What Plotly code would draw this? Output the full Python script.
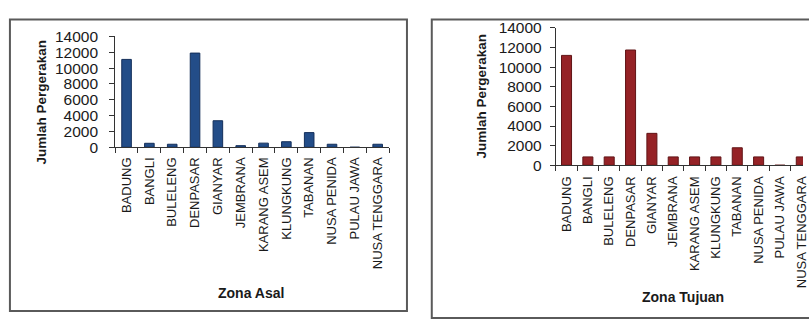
import plotly.graph_objects as go

# Zones (Bali regencies + external zones)
zones = ["BADUNG", "BANGLI", "BULELENG", "DENPASAR", "GIANYAR", "JEMBRANA",
         "KARANG ASEM", "KLUNGKUNG", "TABANAN", "NUSA PENIDA", "PULAU JAWA",
         "NUSA TENGGARA"]

# Trips generated per origin zone
origin_trips = [11100, 500, 380, 11900, 3350, 200, 520, 700, 1850, 380, 0, 380]

# Trips attracted per destination zone
dest_trips = [11200, 850, 850, 11750, 3250, 850, 850, 850, 1780, 850, 0, 850]

y_ticks = [0, 2000, 4000, 6000, 8000, 10000, 12000, 14000]
y_tick_text = [str(v) for v in y_ticks]

W, H = 809, 320
FONT = "Liberation Sans, Arial, sans-serif"
TXT = "#1a1a1a"


def px(x):
    return x / W


def py(y):
    return 1 - y / H


fig = go.Figure()

fig.add_trace(go.Bar(
    x=zones, y=origin_trips, width=0.42,
    marker=dict(color="#234d88", line=dict(color="#142f5a", width=1)),
    xaxis="x", yaxis="y", showlegend=False,
))
fig.add_trace(go.Bar(
    x=zones, y=dest_trips, width=0.47,
    marker=dict(color="#952226", line=dict(color="#611416", width=1)),
    xaxis="x2", yaxis="y2", showlegend=False,
))

xcommon = dict(
    type="category", tickangle=-90, tickson="boundaries",
    ticks="outside", ticklen=5, tickcolor="#333", showline=True,
    linecolor="#333", linewidth=1, showgrid=False, zeroline=False,
    ticklabelstandoff=4,
    tickfont=dict(family=FONT, size=13, color=TXT), fixedrange=True,
)
ycommon = dict(
    range=[0, 14000], tickmode="array", tickvals=y_ticks,
    ticktext=y_tick_text, ticks="outside", ticklen=5,
    tickcolor="#333", showline=True, linecolor="#333", linewidth=1,
    showgrid=False, zeroline=False,
    tickfont=dict(family=FONT, size=15.5, color=TXT), fixedrange=True,
)

fig.update_layout(
    width=W, height=H, margin=dict(l=0, r=0, t=0, b=0),
    paper_bgcolor="white", plot_bgcolor="white",
    xaxis=dict(xcommon, domain=[px(116), px(392)], range=[-0.5, 11.5],
               anchor="y"),
    yaxis=dict(ycommon, domain=[py(146), py(29)], anchor="x",
               ticklabelstandoff=8),
    xaxis2=dict(xcommon, domain=[px(560), 1], range=[-0.5, 11.08],
                anchor="y2", ticklabelstandoff=5),
    yaxis2=dict(ycommon, domain=[py(165), py(20)], anchor="x2",
                ticklabelstandoff=5),
    shapes=[
        dict(type="rect", xref="paper", yref="paper",
             x0=px(10), x1=px(410), y0=py(319), y1=py(11),
             line=dict(color="#5a5a5a", width=2)),
        dict(type="rect", xref="paper", yref="paper",
             x0=px(435), x1=1.02, y0=-0.02, y1=py(11),
             line=dict(color="#5a5a5a", width=2)),
    ],
    annotations=[
        dict(text="<b>Jumlah Pergerakan</b>", x=px(42), y=py(98),
             xref="paper", yref="paper", textangle=-90, showarrow=False,
             xanchor="center", yanchor="middle",
             font=dict(family=FONT, size=13.5, color=TXT)),
        dict(text="<b>Jumlah Pergerakan</b>", x=px(485), y=py(92),
             xref="paper", yref="paper", textangle=-90, showarrow=False,
             xanchor="center", yanchor="middle",
             font=dict(family=FONT, size=13.5, color=TXT)),
        dict(text="<b>Zona Asal</b>", x=px(253), y=py(300),
             xref="paper", yref="paper", showarrow=False,
             xanchor="center", yanchor="middle",
             font=dict(family=FONT, size=14, color=TXT)),
        dict(text="<b>Zona Tujuan</b>", x=px(688), y=py(304),
             xref="paper", yref="paper", showarrow=False,
             xanchor="center", yanchor="middle",
             font=dict(family=FONT, size=14, color=TXT)),
    ],
)

fig.write_html("out.html")
